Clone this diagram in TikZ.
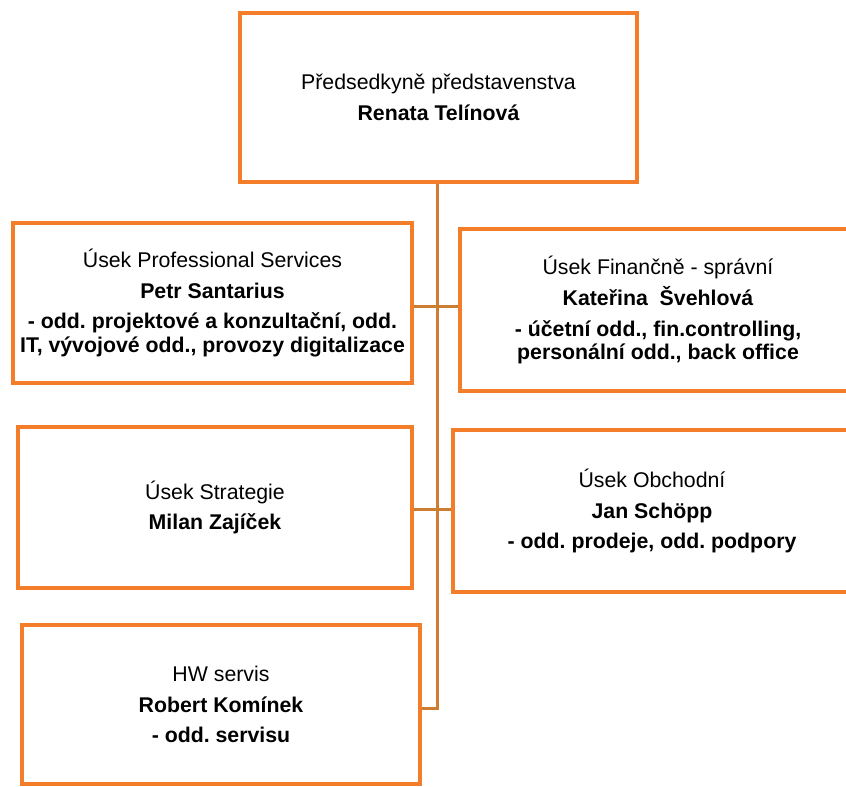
\documentclass[tikz,border=0pt]{standalone}
\usepackage{fontspec}
\setmainfont{Liberation Sans}
\definecolor{boxorange}{RGB}{243,125,40}
\definecolor{connbrown}{RGB}{205,125,50}
\frenchspacing
\begin{document}
\begin{tikzpicture}[x=1pt,y=-1pt,
  box/.style={draw=boxorange, line width=3.5pt, fill=white, align=center, inner sep=0pt,
    font=\fontsize{21.3}{23.5}\selectfont},
  conn/.style={draw=connbrown, line width=3pt}]
\useasboundingbox (0,0) rectangle (846,787);
\clip (0,0) rectangle (846,787);
\fill[white] (0,0) rectangle (846,787);

\coordinate (j1) at (437,306);
\coordinate (j2) at (437,509);
\coordinate (tend) at (437,708);

\node[box, minimum width=397pt, minimum height=169pt] (top) at (438.5,97.5)
  {Předsedkyně představenstva\\[7pt]\textbf{Renata Telínová}};
\node[box, minimum width=399pt, minimum height=160pt] (ps) at (212.5,303)
  {Úsek Professional Services\\[7pt]\textbf{Petr Santarius}\\[7pt]\textbf{- odd. projektové a konzultační, odd.}\\\textbf{IT, vývojové odd., provozy digitalizace}};
\node[box, minimum width=396pt, minimum height=162pt] (fin) at (658,310)
  {Úsek Finančně - správní\\[7pt]\textbf{Kateřina\ \ Švehlová}\\[7pt]\textbf{- účetní odd., fin.controlling,}\\\textbf{personální odd., back office}};
\node[box, minimum width=394pt, minimum height=161pt] (strat) at (215,507.5)
  {Úsek Strategie\\[7pt]\textbf{Milan Zajíček}};
\node[box, minimum width=398pt, minimum height=162pt] (obch) at (652,511)
  {Úsek Obchodní\\[7pt]\textbf{Jan Schöpp}\\[7pt]\textbf{- odd. prodeje, odd. podpory}};
\node[box, minimum width=398pt, minimum height=159pt] (hw) at (221,704.5)
  {HW servis\\[7pt]\textbf{Robert Komínek}\\[7pt]\textbf{- odd. servisu}};

\draw[conn] (top.south -| j1) -- (tend) -- (tend -| hw.east);
\draw[conn] (j1 -| ps.east) -- (j1 -| fin.west);
\draw[conn] (j2 -| strat.east) -- (j2 -| obch.west);
\end{tikzpicture}
\end{document}
